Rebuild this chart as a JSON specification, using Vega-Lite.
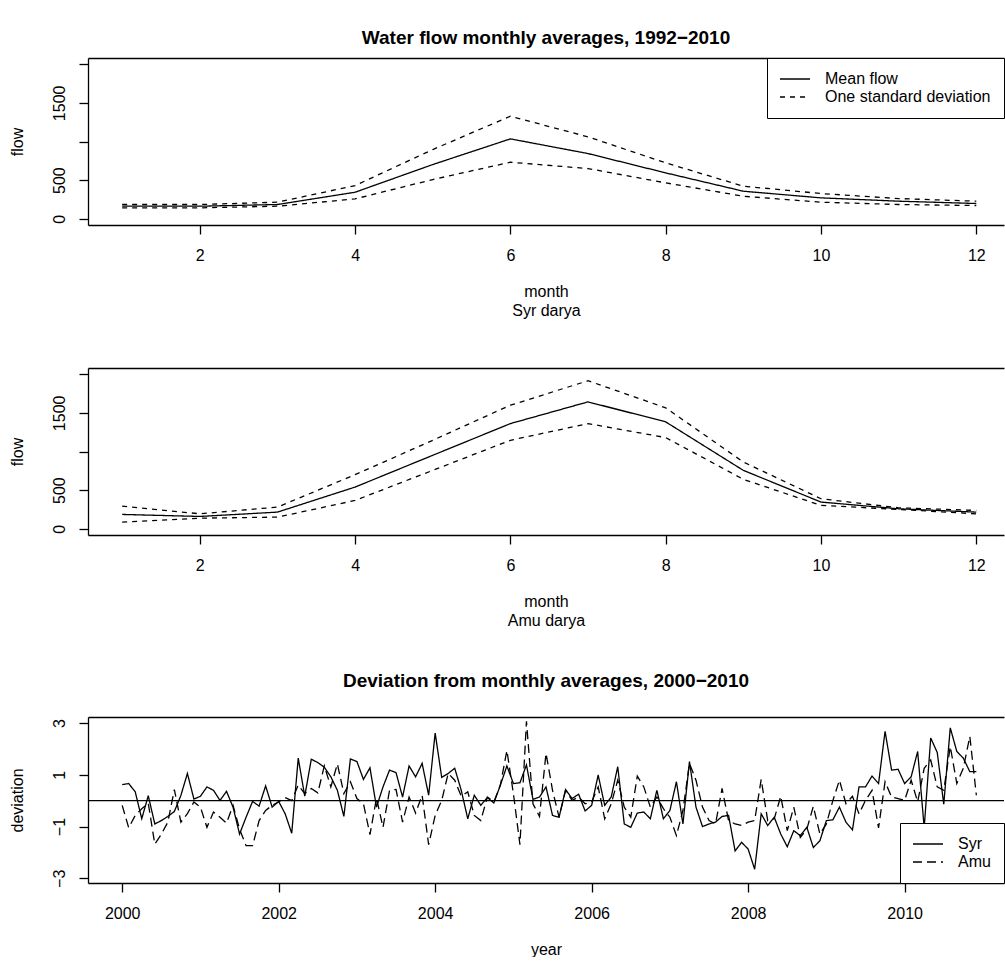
{
"$schema": "https://vega.github.io/schema/vega-lite/v6.json",
"background": "white",
"autosize": {"type": "pad"},
"padding": {"left": 9, "top": 28, "right": 0, "bottom": 0},
"config": {
  "font": "Liberation Sans",
  "view": {"stroke": null},
  "axis": {"labelFont": "Liberation Sans", "titleFont": "Liberation Sans", "labelFontSize": 16, "titleFontSize": 16, "titleFontWeight": "normal", "labelColor": "black", "titleColor": "black", "tickColor": "black", "domainColor": "black", "tickSize": 9, "tickWidth": 1.3, "domainWidth": 1.3, "grid": false, "labelFlush": false, "labelOverlap": false},
  "title": {"font": "Liberation Sans", "fontSize": 19, "fontWeight": "bold", "color": "black", "anchor": "middle", "frame": "group", "baseline": "alphabetic", "offset": 16},
  "legend": {"labelFont": "Liberation Sans", "labelFontSize": 16, "labelColor": "black", "symbolType": "M-2.143,0H2.143", "symbolSize": 196, "symbolOffset": 7, "symbolStrokeWidth": 1.3, "symbolStrokeColor": "black", "strokeColor": "black", "fillColor": "white", "padding": 13, "labelOffset": 22, "rowPadding": 2, "labelLimit": 0, "cornerRadius": 0}
},
"datasets": {
  "syr": [
    {"month":1,"bound":"mean","series":"Mean flow","flow":163},{"month":2,"bound":"mean","series":"Mean flow","flow":163},{"month":3,"bound":"mean","series":"Mean flow","flow":185},{"month":4,"bound":"mean","series":"Mean flow","flow":344},{"month":5,"bound":"mean","series":"Mean flow","flow":702},{"month":6,"bound":"mean","series":"Mean flow","flow":1034},{"month":7,"bound":"mean","series":"Mean flow","flow":844},{"month":8,"bound":"mean","series":"Mean flow","flow":594},{"month":9,"bound":"mean","series":"Mean flow","flow":357},{"month":10,"bound":"mean","series":"Mean flow","flow":271},{"month":11,"bound":"mean","series":"Mean flow","flow":228},{"month":12,"bound":"mean","series":"Mean flow","flow":198},
    {"month":1,"bound":"upper","series":"One standard deviation","flow":185},{"month":2,"bound":"upper","series":"One standard deviation","flow":185},{"month":3,"bound":"upper","series":"One standard deviation","flow":215},{"month":4,"bound":"upper","series":"One standard deviation","flow":430},{"month":5,"bound":"upper","series":"One standard deviation","flow":896},{"month":6,"bound":"upper","series":"One standard deviation","flow":1327},{"month":7,"bound":"upper","series":"One standard deviation","flow":1060},{"month":8,"bound":"upper","series":"One standard deviation","flow":724},{"month":9,"bound":"upper","series":"One standard deviation","flow":422},{"month":10,"bound":"upper","series":"One standard deviation","flow":327},{"month":11,"bound":"upper","series":"One standard deviation","flow":262},{"month":12,"bound":"upper","series":"One standard deviation","flow":228},
    {"month":1,"bound":"lower","series":"One standard deviation","flow":142},{"month":2,"bound":"lower","series":"One standard deviation","flow":142},{"month":3,"bound":"lower","series":"One standard deviation","flow":163},{"month":4,"bound":"lower","series":"One standard deviation","flow":258},{"month":5,"bound":"lower","series":"One standard deviation","flow":508},{"month":6,"bound":"lower","series":"One standard deviation","flow":732},{"month":7,"bound":"lower","series":"One standard deviation","flow":650},{"month":8,"bound":"lower","series":"One standard deviation","flow":465},{"month":9,"bound":"lower","series":"One standard deviation","flow":292},{"month":10,"bound":"lower","series":"One standard deviation","flow":215},{"month":11,"bound":"lower","series":"One standard deviation","flow":185},{"month":12,"bound":"lower","series":"One standard deviation","flow":172}
  ],
  "amu": [
    {"month":1,"bound":"mean","series":"Mean flow","flow":186},{"month":2,"bound":"mean","series":"Mean flow","flow":160},{"month":3,"bound":"mean","series":"Mean flow","flow":216},{"month":4,"bound":"mean","series":"Mean flow","flow":540},{"month":5,"bound":"mean","series":"Mean flow","flow":951},{"month":6,"bound":"mean","series":"Mean flow","flow":1361},{"month":7,"bound":"mean","series":"Mean flow","flow":1642},{"month":8,"bound":"mean","series":"Mean flow","flow":1383},{"month":9,"bound":"mean","series":"Mean flow","flow":756},{"month":10,"bound":"mean","series":"Mean flow","flow":346},{"month":11,"bound":"mean","series":"Mean flow","flow":259},{"month":12,"bound":"mean","series":"Mean flow","flow":216},
    {"month":1,"bound":"upper","series":"One standard deviation","flow":294},{"month":2,"bound":"upper","series":"One standard deviation","flow":194},{"month":3,"bound":"upper","series":"One standard deviation","flow":281},{"month":4,"bound":"upper","series":"One standard deviation","flow":700},{"month":5,"bound":"upper","series":"One standard deviation","flow":1145},{"month":6,"bound":"upper","series":"One standard deviation","flow":1599},{"month":7,"bound":"upper","series":"One standard deviation","flow":1915},{"month":8,"bound":"upper","series":"One standard deviation","flow":1565},{"month":9,"bound":"upper","series":"One standard deviation","flow":864},{"month":10,"bound":"upper","series":"One standard deviation","flow":389},{"month":11,"bound":"upper","series":"One standard deviation","flow":272},{"month":12,"bound":"upper","series":"One standard deviation","flow":238},
    {"month":1,"bound":"lower","series":"One standard deviation","flow":86},{"month":2,"bound":"lower","series":"One standard deviation","flow":138},{"month":3,"bound":"lower","series":"One standard deviation","flow":151},{"month":4,"bound":"lower","series":"One standard deviation","flow":367},{"month":5,"bound":"lower","series":"One standard deviation","flow":756},{"month":6,"bound":"lower","series":"One standard deviation","flow":1145},{"month":7,"bound":"lower","series":"One standard deviation","flow":1361},{"month":8,"bound":"lower","series":"One standard deviation","flow":1180},{"month":9,"bound":"lower","series":"One standard deviation","flow":640},{"month":10,"bound":"lower","series":"One standard deviation","flow":303},{"month":11,"bound":"lower","series":"One standard deviation","flow":251},{"month":12,"bound":"lower","series":"One standard deviation","flow":194}
  ],
  "dev": [
    {"year":2000,"river":"Syr","deviation":0.62},{"year":2000.0833,"river":"Syr","deviation":0.66},{"year":2000.1667,"river":"Syr","deviation":0.34},{"year":2000.25,"river":"Syr","deviation":-0.70},{"year":2000.3333,"river":"Syr","deviation":0.19},{"year":2000.4167,"river":"Syr","deviation":-0.90},{"year":2000.5,"river":"Syr","deviation":-0.77},{"year":2000.5833,"river":"Syr","deviation":-0.61},{"year":2000.6667,"river":"Syr","deviation":-0.42},{"year":2000.75,"river":"Syr","deviation":0.20},{"year":2000.8333,"river":"Syr","deviation":1.05},{"year":2000.9167,"river":"Syr","deviation":0.06},
    {"year":2001,"river":"Syr","deviation":0.17},{"year":2001.0833,"river":"Syr","deviation":0.53},{"year":2001.1667,"river":"Syr","deviation":0.40},{"year":2001.25,"river":"Syr","deviation":0.01},{"year":2001.3333,"river":"Syr","deviation":0.36},{"year":2001.4167,"river":"Syr","deviation":-0.25},{"year":2001.5,"river":"Syr","deviation":-1.29},{"year":2001.5833,"river":"Syr","deviation":-0.64},{"year":2001.6667,"river":"Syr","deviation":-0.03},{"year":2001.75,"river":"Syr","deviation":-0.21},{"year":2001.8333,"river":"Syr","deviation":0.57},{"year":2001.9167,"river":"Syr","deviation":-0.25},
    {"year":2002,"river":"Syr","deviation":-0.03},{"year":2002.0833,"river":"Syr","deviation":-0.51},{"year":2002.1667,"river":"Syr","deviation":-1.26},{"year":2002.25,"river":"Syr","deviation":1.64},{"year":2002.3333,"river":"Syr","deviation":0.17},{"year":2002.4167,"river":"Syr","deviation":1.60},{"year":2002.5,"river":"Syr","deviation":1.47},{"year":2002.5833,"river":"Syr","deviation":1.29},{"year":2002.6667,"river":"Syr","deviation":0.92},{"year":2002.75,"river":"Syr","deviation":0.40},{"year":2002.8333,"river":"Syr","deviation":-0.61},{"year":2002.9167,"river":"Syr","deviation":1.61},
    {"year":2003,"river":"Syr","deviation":1.51},{"year":2003.0833,"river":"Syr","deviation":0.82},{"year":2003.1667,"river":"Syr","deviation":1.27},{"year":2003.25,"river":"Syr","deviation":-0.25},{"year":2003.3333,"river":"Syr","deviation":0.53},{"year":2003.4167,"river":"Syr","deviation":1.18},{"year":2003.5,"river":"Syr","deviation":1.08},{"year":2003.5833,"river":"Syr","deviation":0.14},{"year":2003.6667,"river":"Syr","deviation":1.34},{"year":2003.75,"river":"Syr","deviation":0.92},{"year":2003.8333,"river":"Syr","deviation":1.44},{"year":2003.9167,"river":"Syr","deviation":0.21},
    {"year":2004,"river":"Syr","deviation":2.61},{"year":2004.0833,"river":"Syr","deviation":0.90},{"year":2004.1667,"river":"Syr","deviation":1.05},{"year":2004.25,"river":"Syr","deviation":1.25},{"year":2004.3333,"river":"Syr","deviation":0.40},{"year":2004.4167,"river":"Syr","deviation":-0.70},{"year":2004.5,"river":"Syr","deviation":0.21},{"year":2004.5833,"river":"Syr","deviation":-0.18},{"year":2004.6667,"river":"Syr","deviation":0.12},{"year":2004.75,"river":"Syr","deviation":-0.09},{"year":2004.8333,"river":"Syr","deviation":0.60},{"year":2004.9167,"river":"Syr","deviation":1.34},
    {"year":2005,"river":"Syr","deviation":0.66},{"year":2005.0833,"river":"Syr","deviation":0.69},{"year":2005.1667,"river":"Syr","deviation":1.38},{"year":2005.25,"river":"Syr","deviation":0.05},{"year":2005.3333,"river":"Syr","deviation":0.14},{"year":2005.4167,"river":"Syr","deviation":0.53},{"year":2005.5,"river":"Syr","deviation":-0.57},{"year":2005.5833,"river":"Syr","deviation":-0.64},{"year":2005.6667,"river":"Syr","deviation":0.43},{"year":2005.75,"river":"Syr","deviation":0.08},{"year":2005.8333,"river":"Syr","deviation":0.25},{"year":2005.9167,"river":"Syr","deviation":-0.40},
    {"year":2006,"river":"Syr","deviation":-0.18},{"year":2006.0833,"river":"Syr","deviation":0.99},{"year":2006.1667,"river":"Syr","deviation":-0.18},{"year":2006.25,"river":"Syr","deviation":0.14},{"year":2006.3333,"river":"Syr","deviation":1.31},{"year":2006.4167,"river":"Syr","deviation":-0.90},{"year":2006.5,"river":"Syr","deviation":-1.03},{"year":2006.5833,"river":"Syr","deviation":-0.48},{"year":2006.6667,"river":"Syr","deviation":-0.44},{"year":2006.75,"river":"Syr","deviation":-0.70},{"year":2006.8333,"river":"Syr","deviation":0.40},{"year":2006.9167,"river":"Syr","deviation":-0.70},
    {"year":2007,"river":"Syr","deviation":-0.38},{"year":2007.0833,"river":"Syr","deviation":0.73},{"year":2007.1667,"river":"Syr","deviation":-0.90},{"year":2007.25,"river":"Syr","deviation":1.51},{"year":2007.3333,"river":"Syr","deviation":-0.25},{"year":2007.4167,"river":"Syr","deviation":-1.00},{"year":2007.5,"river":"Syr","deviation":-0.90},{"year":2007.5833,"river":"Syr","deviation":-0.83},{"year":2007.6667,"river":"Syr","deviation":-0.61},{"year":2007.75,"river":"Syr","deviation":-0.57},{"year":2007.8333,"river":"Syr","deviation":-1.94},{"year":2007.9167,"river":"Syr","deviation":-1.61},
    {"year":2008,"river":"Syr","deviation":-1.87},{"year":2008.0833,"river":"Syr","deviation":-2.65},{"year":2008.1667,"river":"Syr","deviation":-0.51},{"year":2008.25,"river":"Syr","deviation":-0.96},{"year":2008.3333,"river":"Syr","deviation":-0.64},{"year":2008.4167,"river":"Syr","deviation":-1.29},{"year":2008.5,"river":"Syr","deviation":-1.78},{"year":2008.5833,"river":"Syr","deviation":-1.16},{"year":2008.6667,"river":"Syr","deviation":-1.35},{"year":2008.75,"river":"Syr","deviation":-1.03},{"year":2008.8333,"river":"Syr","deviation":-1.81},{"year":2008.9167,"river":"Syr","deviation":-1.55},
    {"year":2009,"river":"Syr","deviation":-0.77},{"year":2009.0833,"river":"Syr","deviation":-0.74},{"year":2009.1667,"river":"Syr","deviation":-0.25},{"year":2009.25,"river":"Syr","deviation":-0.83},{"year":2009.3333,"river":"Syr","deviation":-1.13},{"year":2009.4167,"river":"Syr","deviation":0.53},{"year":2009.5,"river":"Syr","deviation":0.53},{"year":2009.5833,"river":"Syr","deviation":0.95},{"year":2009.6667,"river":"Syr","deviation":0.66},{"year":2009.75,"river":"Syr","deviation":2.68},{"year":2009.8333,"river":"Syr","deviation":1.18},{"year":2009.9167,"river":"Syr","deviation":1.21},
    {"year":2010,"river":"Syr","deviation":0.66},{"year":2010.0833,"river":"Syr","deviation":0.92},{"year":2010.1667,"river":"Syr","deviation":1.90},{"year":2010.25,"river":"Syr","deviation":-1.05},{"year":2010.3333,"river":"Syr","deviation":2.42},{"year":2010.4167,"river":"Syr","deviation":1.86},{"year":2010.5,"river":"Syr","deviation":-0.14},{"year":2010.5833,"river":"Syr","deviation":2.81},{"year":2010.6667,"river":"Syr","deviation":1.90},{"year":2010.75,"river":"Syr","deviation":1.64},{"year":2010.8333,"river":"Syr","deviation":1.12},{"year":2010.9167,"river":"Syr","deviation":1.12},
    {"year":2000,"river":"Amu","deviation":-0.18},{"year":2000.0833,"river":"Amu","deviation":-1.05},{"year":2000.1667,"river":"Amu","deviation":-0.57},{"year":2000.25,"river":"Amu","deviation":-0.31},{"year":2000.3333,"river":"Amu","deviation":-0.10},{"year":2000.4167,"river":"Amu","deviation":-1.68},{"year":2000.5,"river":"Amu","deviation":-1.30},{"year":2000.5833,"river":"Amu","deviation":-0.83},{"year":2000.6667,"river":"Amu","deviation":0.43},{"year":2000.75,"river":"Amu","deviation":-0.83},{"year":2000.8333,"river":"Amu","deviation":-0.50},{"year":2000.9167,"river":"Amu","deviation":-0.05},
    {"year":2001,"river":"Amu","deviation":-0.25},{"year":2001.0833,"river":"Amu","deviation":-1.03},{"year":2001.1667,"river":"Amu","deviation":-0.44},{"year":2001.25,"river":"Amu","deviation":-0.64},{"year":2001.3333,"river":"Amu","deviation":-0.87},{"year":2001.4167,"river":"Amu","deviation":-0.18},{"year":2001.5,"river":"Amu","deviation":-1.10},{"year":2001.5833,"river":"Amu","deviation":-1.74},{"year":2001.6667,"river":"Amu","deviation":-1.74},{"year":2001.75,"river":"Amu","deviation":-0.77},{"year":2001.8333,"river":"Amu","deviation":-0.38},{"year":2001.9167,"river":"Amu","deviation":-0.18},
    {"year":2002,"river":"Amu","deviation":-0.05},{"year":2002.0833,"river":"Amu","deviation":0.12},{"year":2002.1667,"river":"Amu","deviation":0.00},{"year":2002.25,"river":"Amu","deviation":0.60},{"year":2002.3333,"river":"Amu","deviation":0.27},{"year":2002.4167,"river":"Amu","deviation":0.47},{"year":2002.5,"river":"Amu","deviation":0.30},{"year":2002.5833,"river":"Amu","deviation":1.34},{"year":2002.6667,"river":"Amu","deviation":0.53},{"year":2002.75,"river":"Amu","deviation":1.42},{"year":2002.8333,"river":"Amu","deviation":0.27},{"year":2002.9167,"river":"Amu","deviation":0.73},
    {"year":2003,"river":"Amu","deviation":0.08},{"year":2003.0833,"river":"Amu","deviation":-0.12},{"year":2003.1667,"river":"Amu","deviation":-1.31},{"year":2003.25,"river":"Amu","deviation":0.10},{"year":2003.3333,"river":"Amu","deviation":-1.03},{"year":2003.4167,"river":"Amu","deviation":0.40},{"year":2003.5,"river":"Amu","deviation":0.43},{"year":2003.5833,"river":"Amu","deviation":-0.83},{"year":2003.6667,"river":"Amu","deviation":0.14},{"year":2003.75,"river":"Amu","deviation":-0.48},{"year":2003.8333,"river":"Amu","deviation":0.21},{"year":2003.9167,"river":"Amu","deviation":-1.70},
    {"year":2004,"river":"Amu","deviation":-0.57},{"year":2004.0833,"river":"Amu","deviation":0.01},{"year":2004.1667,"river":"Amu","deviation":1.05},{"year":2004.25,"river":"Amu","deviation":0.79},{"year":2004.3333,"river":"Amu","deviation":0.17},{"year":2004.4167,"river":"Amu","deviation":0.34},{"year":2004.5,"river":"Amu","deviation":-0.57},{"year":2004.5833,"river":"Amu","deviation":-0.77},{"year":2004.6667,"river":"Amu","deviation":0.14},{"year":2004.75,"river":"Amu","deviation":-0.05},{"year":2004.8333,"river":"Amu","deviation":0.60},{"year":2004.9167,"river":"Amu","deviation":1.94},
    {"year":2005,"river":"Amu","deviation":0.27},{"year":2005.0833,"river":"Amu","deviation":-1.70},{"year":2005.1667,"river":"Amu","deviation":3.06},{"year":2005.25,"river":"Amu","deviation":-0.12},{"year":2005.3333,"river":"Amu","deviation":-0.61},{"year":2005.4167,"river":"Amu","deviation":1.83},{"year":2005.5,"river":"Amu","deviation":0.40},{"year":2005.5833,"river":"Amu","deviation":-0.64},{"year":2005.6667,"river":"Amu","deviation":0.40},{"year":2005.75,"river":"Amu","deviation":0.01},{"year":2005.8333,"river":"Amu","deviation":0.14},{"year":2005.9167,"river":"Amu","deviation":-0.12},
    {"year":2006,"river":"Amu","deviation":-0.05},{"year":2006.0833,"river":"Amu","deviation":0.53},{"year":2006.1667,"river":"Amu","deviation":-0.70},{"year":2006.25,"river":"Amu","deviation":-0.12},{"year":2006.3333,"river":"Amu","deviation":0.79},{"year":2006.4167,"river":"Amu","deviation":-0.25},{"year":2006.5,"river":"Amu","deviation":-0.64},{"year":2006.5833,"river":"Amu","deviation":0.95},{"year":2006.6667,"river":"Amu","deviation":0.53},{"year":2006.75,"river":"Amu","deviation":-0.25},{"year":2006.8333,"river":"Amu","deviation":0.14},{"year":2006.9167,"river":"Amu","deviation":-0.31},
    {"year":2007,"river":"Amu","deviation":-0.64},{"year":2007.0833,"river":"Amu","deviation":-1.35},{"year":2007.1667,"river":"Amu","deviation":-0.38},{"year":2007.25,"river":"Amu","deviation":1.44},{"year":2007.3333,"river":"Amu","deviation":0.79},{"year":2007.4167,"river":"Amu","deviation":-0.25},{"year":2007.5,"river":"Amu","deviation":-0.77},{"year":2007.5833,"river":"Amu","deviation":-0.90},{"year":2007.6667,"river":"Amu","deviation":0.47},{"year":2007.75,"river":"Amu","deviation":-0.77},{"year":2007.8333,"river":"Amu","deviation":-0.90},{"year":2007.9167,"river":"Amu","deviation":-0.96},
    {"year":2008,"river":"Amu","deviation":-0.83},{"year":2008.0833,"river":"Amu","deviation":-0.77},{"year":2008.1667,"river":"Amu","deviation":0.82},{"year":2008.25,"river":"Amu","deviation":-0.77},{"year":2008.3333,"river":"Amu","deviation":-0.70},{"year":2008.4167,"river":"Amu","deviation":0.17},{"year":2008.5,"river":"Amu","deviation":-1.16},{"year":2008.5833,"river":"Amu","deviation":-0.25},{"year":2008.6667,"river":"Amu","deviation":-1.42},{"year":2008.75,"river":"Amu","deviation":-1.10},{"year":2008.8333,"river":"Amu","deviation":-0.22},{"year":2008.9167,"river":"Amu","deviation":-1.29},
    {"year":2009,"river":"Amu","deviation":-0.90},{"year":2009.0833,"river":"Amu","deviation":0.01},{"year":2009.1667,"river":"Amu","deviation":0.79},{"year":2009.25,"river":"Amu","deviation":-0.12},{"year":2009.3333,"river":"Amu","deviation":0.17},{"year":2009.4167,"river":"Amu","deviation":-0.51},{"year":2009.5,"river":"Amu","deviation":0.01},{"year":2009.5833,"river":"Amu","deviation":0.40},{"year":2009.6667,"river":"Amu","deviation":-1.05},{"year":2009.75,"river":"Amu","deviation":0.73},{"year":2009.8333,"river":"Amu","deviation":0.14},{"year":2009.9167,"river":"Amu","deviation":0.08},
    {"year":2010,"river":"Amu","deviation":0.01},{"year":2010.0833,"river":"Amu","deviation":0.79},{"year":2010.1667,"river":"Amu","deviation":-0.05},{"year":2010.25,"river":"Amu","deviation":1.25},{"year":2010.3333,"river":"Amu","deviation":1.57},{"year":2010.4167,"river":"Amu","deviation":0.53},{"year":2010.5,"river":"Amu","deviation":0.40},{"year":2010.5833,"river":"Amu","deviation":2.09},{"year":2010.6667,"river":"Amu","deviation":0.66},{"year":2010.75,"river":"Amu","deviation":1.25},{"year":2010.8333,"river":"Amu","deviation":2.48},{"year":2010.9167,"river":"Amu","deviation":0.21}
  ]
},
"vconcat": [
  {
    "vconcat": [
      {
        "width": 916, "height": 167,
        "title": {"text": "Water flow monthly averages, 1992−2010", "offset": 10},
        "data": {"name": "syr"},
        "layer": [
          {"mark": {"type": "line", "color": "black", "strokeWidth": 1.3},
           "encoding": {
             "x": {"field": "month", "type": "quantitative", "scale": {"domain": [0.56, 12.357], "nice": false, "zero": false},
                   "axis": {"values": [2,4,6,8,10,12], "title": ["month", "Syr darya"], "labelPadding": 13, "titlePadding": 20, "titleLineHeight": 19}},
             "y": {"field": "flow", "type": "quantitative", "scale": {"domain": [-80, 2080], "nice": false, "zero": false},
                   "axis": {"values": [0,500,1000,1500,2000], "format": "d", "labelExpr": "datum.value == 1000 || datum.value == 2000 ? '' : datum.label", "title": "flow", "labelAngle": 270, "labelAlign": "center", "labelBaseline": "bottom", "labelPadding": 12, "titlePadding": 26}},
             "strokeDash": {"field": "series", "type": "nominal", "scale": {"domain": ["Mean flow", "One standard deviation"], "range": [[1,0],[5,5]]}, "legend": {"orient": "top-right", "offset": 0, "title": null}},
             "detail": {"field": "bound", "type": "nominal"}
           }},
          {"mark": {"type": "rule", "opacity": 0},
           "encoding": {"x": {"field": "month", "type": "quantitative", "axis": {"orient": "top", "labels": false, "ticks": false, "title": null, "domain": true}}}}
        ],
        "resolve": {"axis": {"x": "independent"}}
      },
      {
        "width": 916, "height": 167,
        "data": {"name": "amu"},
        "layer": [
          {"mark": {"type": "line", "color": "black", "strokeWidth": 1.3},
           "encoding": {
             "x": {"field": "month", "type": "quantitative", "scale": {"domain": [0.56, 12.357], "nice": false, "zero": false},
                   "axis": {"values": [2,4,6,8,10,12], "title": ["month", "Amu darya"], "labelPadding": 13, "titlePadding": 20, "titleLineHeight": 19}},
             "y": {"field": "flow", "type": "quantitative", "scale": {"domain": [-80, 2080], "nice": false, "zero": false},
                   "axis": {"values": [0,500,1000,1500,2000], "format": "d", "labelExpr": "datum.value == 1000 || datum.value == 2000 ? '' : datum.label", "title": "flow", "labelAngle": 270, "labelAlign": "center", "labelBaseline": "bottom", "labelPadding": 12, "titlePadding": 26}},
             "strokeDash": {"field": "series", "type": "nominal", "scale": {"domain": ["Mean flow", "One standard deviation"], "range": [[1,0],[5,5]]}, "legend": null},
             "detail": {"field": "bound", "type": "nominal"}
           }},
          {"mark": {"type": "rule", "opacity": 0},
           "encoding": {"x": {"field": "month", "type": "quantitative", "axis": {"orient": "top", "labels": false, "ticks": false, "title": null, "domain": true}}}}
        ],
        "resolve": {"axis": {"x": "independent"}}
      }
    ],
    "spacing": 50,
    "resolve": {"scale": {"strokeDash": "independent"}, "legend": {"strokeDash": "independent"}}
  },
  {
    "width": 916, "height": 166,
    "title": {"text": "Deviation from monthly averages, 2000−2010", "offset": 26},
    "data": {"name": "dev"},
    "layer": [
      {"mark": {"type": "line", "color": "black", "strokeWidth": 1.3},
       "encoding": {
         "x": {"field": "year", "type": "quantitative", "scale": {"domain": [1999.563, 2011.27], "nice": false, "zero": false},
               "axis": {"values": [2000,2002,2004,2006,2008,2010], "format": "d", "title": "year", "labelPadding": 13, "titlePadding": 20}},
         "y": {"field": "deviation", "type": "quantitative", "scale": {"domain": [-3.18, 3.23], "nice": false, "zero": false},
               "axis": {"values": [-3,-2,-1,0,1,2,3], "format": "d", "labelExpr": "datum.value == 0 || datum.value == -2 ? '' : datum.label", "title": "deviation", "labelAngle": 270, "labelAlign": "center", "labelBaseline": "bottom", "labelPadding": 12, "titlePadding": 26}},
         "strokeDash": {"field": "river", "type": "nominal", "scale": {"domain": ["Syr", "Amu"], "range": [[1,0],[9,5]]}, "legend": {"orient": "bottom-right", "offset": 0, "title": null}}
       }},
      {"data": {"values": [{"zero": 0}]},
       "mark": {"type": "rule", "color": "black", "strokeWidth": 1.3},
       "encoding": {"y": {"datum": 0}}},
      {"mark": {"type": "rule", "opacity": 0},
       "encoding": {"x": {"field": "year", "type": "quantitative", "axis": {"orient": "top", "labels": false, "ticks": false, "title": null, "domain": true}}}}
    ],
    "resolve": {"axis": {"x": "independent"}}
  }
],
"spacing": 44,
"resolve": {"scale": {"strokeDash": "independent"}, "legend": {"strokeDash": "independent"}}
}
